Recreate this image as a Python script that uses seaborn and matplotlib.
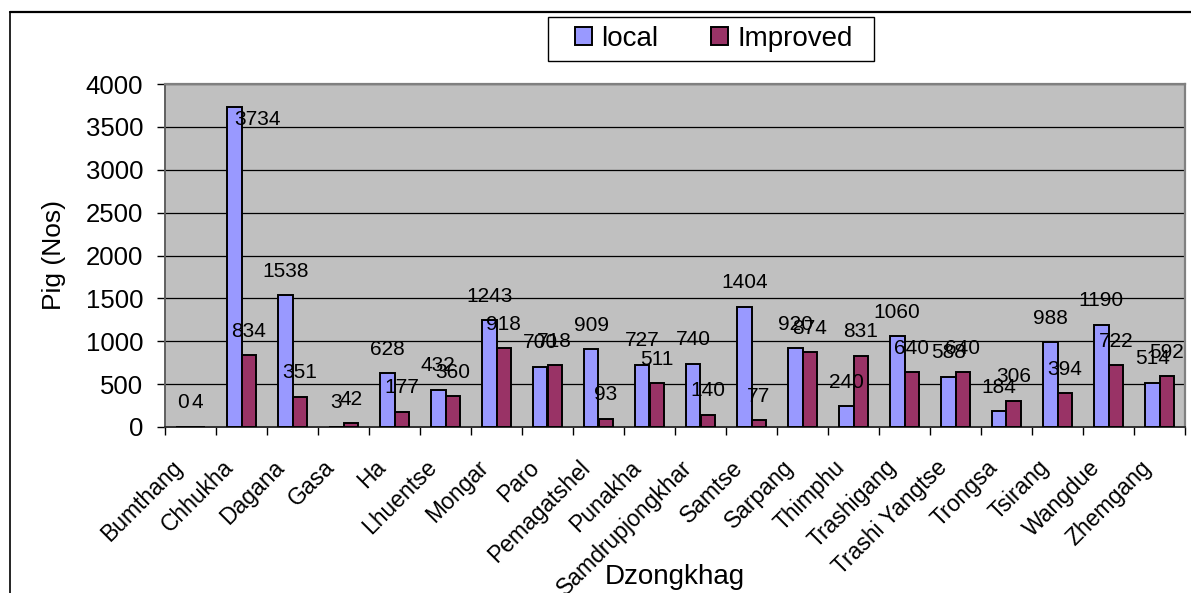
import matplotlib
matplotlib.use("Agg")
import matplotlib.pyplot as plt
import matplotlib.transforms as mtransforms
from matplotlib.patches import Rectangle
from matplotlib.lines import Line2D
import pandas as pd
import seaborn as sns

# data
dzongkhags = ["Bumthang", "Chhukha", "Dagana", "Gasa", "Ha", "Lhuentse", "Mongar",
              "Paro", "Pemagatshel", "Punakha", "Samdrupjongkhar", "Samtse", "Sarpang",
              "Thimphu", "Trashigang", "Trashi Yangtse", "Trongsa", "Tsirang",
              "Wangdue", "Zhemgang"]
local = [0, 3734, 1538, 3, 628, 432, 1243, 700, 909, 727, 740, 1404, 920, 240,
         1060, 588, 184, 988, 1190, 514]
improved = [4, 834, 351, 42, 177, 360, 918, 718, 93, 511, 140, 77, 874, 831,
            640, 640, 306, 394, 722, 592]
breeds = ["local", "Improved"]
colors = ["#9999FF", "#993366"]

df = pd.DataFrame({
    "Dzongkhag": dzongkhags * 2,
    "breed": [breeds[0]] * len(local) + [breeds[1]] * len(improved),
    "pigs": local + improved,
})

sns.set_theme(style="white")
plt.rcParams["font.family"] = ["Liberation Sans", "DejaVu Sans"]
plt.rcParams["text.color"] = "black"
plt.rcParams["axes.labelcolor"] = "black"
plt.rcParams["xtick.color"] = "black"
plt.rcParams["ytick.color"] = "black"

fig = plt.figure(figsize=(11.91, 5.93), dpi=100)
ax = fig.add_axes([165 / 1191, 1 - 427 / 593, 1020 / 1191, 343 / 593])
ax.set_facecolor("#C0C0C0")

sns.barplot(data=df, x="Dzongkhag", y="pigs", hue="breed", palette=colors,
            saturation=1, width=0.57, edgecolor="black", linewidth=1.4,
            errorbar=None, ax=ax, zorder=3)

ax.set_ylim(0, 4000)
ax.set_yticks(range(0, 4001, 500))
ax.set_xlim(-0.5, len(dzongkhags) - 0.5)
ax.yaxis.grid(True, color="black", linewidth=0.9, zorder=1)
ax.set_axisbelow(True)

# value labels, Excel style (centred above each bar)
for cont in ax.containers:
    for bar in cont:
        h = bar.get_height()
        xc = bar.get_x() + bar.get_width() / 2
        if h + 280 > 4000:
            ax.annotate(f"{h:.0f}", (xc, h), xytext=(0, -9), textcoords="offset points",
                        ha="left", va="center", fontsize=15, zorder=5)
        else:
            ax.annotate(f"{h:.0f}", (xc, h), xytext=(0, 17.3), textcoords="offset points",
                        ha="center", va="center", fontsize=15, zorder=5)

# ticks
ax.tick_params(axis="y", which="major", direction="out", length=5.8, width=1,
               color="black", pad=9.9, labelsize=18.5, left=True)
ax.set_xticks(range(len(dzongkhags)))
ax.set_xticks([i - 0.5 for i in range(len(dzongkhags) + 1)], minor=True)
ax.tick_params(axis="x", which="major", length=0, pad=0)
ax.tick_params(axis="x", which="minor", direction="out", length=5.8, width=1,
               color="black", bottom=True)
ax.set_xticklabels(dzongkhags, rotation=45, ha="right", va="center",
                   rotation_mode="anchor", fontsize=16.5)
shift = mtransforms.ScaledTranslation(-0.12, -0.37, fig.dpi_scale_trans)
for lab in ax.get_xticklabels():
    lab.set_transform(lab.get_transform() + shift)

for s in ["top", "right"]:
    ax.spines[s].set_color("#808080")
    ax.spines[s].set_linewidth(1.6)
ax.spines["left"].set_color("#606060")
ax.spines["left"].set_linewidth(1.4)
ax.spines["bottom"].set_color("#303030")
ax.spines["bottom"].set_linewidth(1.4)

ax.set_ylabel("Pig (Nos)", fontsize=19)
ax.yaxis.set_label_coords(-0.109, 0.5)
ax.yaxis.label.set_va("center")
ax.set_xlabel("Dzongkhag", fontsize=20)
ax.xaxis.set_label_coords(0.5, -0.437)
ax.xaxis.label.set_va("center")

# legend
handles, labels = ax.get_legend_handles_labels()
ax.legend(handles, labels, loc="center", bbox_to_anchor=(714 / 1191, 1 - 39 / 593),
          bbox_transform=fig.transFigure, ncol=2, frameon=False, fontsize=20,
          handlelength=0.6, handleheight=0.6, handletextpad=0.35, columnspacing=1.9)
fig.patches.append(Rectangle((548 / 1191, 1 - 61 / 593), 326 / 1191, 44 / 593,
                             transform=fig.transFigure, fill=False,
                             edgecolor="black", linewidth=1))

# chart area border (cropped at right and bottom)
fig.lines.append(Line2D([9.6 / 1191, 1], [1 - 12 / 593, 1 - 12 / 593],
                        transform=fig.transFigure, color="black", linewidth=1.6))
fig.lines.append(Line2D([9.6 / 1191, 9.6 / 1191], [0, 1 - 12 / 593],
                        transform=fig.transFigure, color="black", linewidth=1.2))

fig.savefig("out.png", dpi=100, facecolor="white")
